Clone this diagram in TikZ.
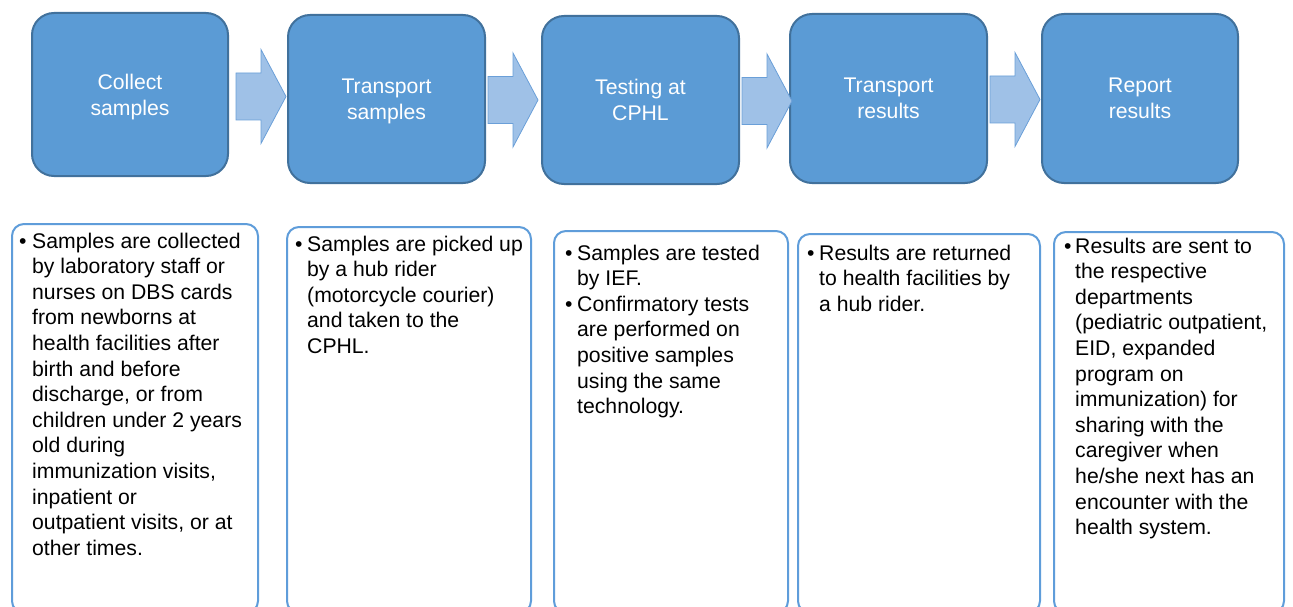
\documentclass[tikz,border=0pt]{standalone}
\usepackage{fontspec}
\setmainfont{Liberation Sans}
\definecolor{boxfill}{HTML}{5B9BD5}
\definecolor{boxline}{HTML}{41719C}
\definecolor{arrfill}{HTML}{9FC1E7}
\definecolor{arrline}{HTML}{6A9FD8}
\definecolor{noteline}{HTML}{5F9DDA}
\newcommand{\notetext}[1]{\parbox[t]{300pt}{\fontsize{21.2}{25.6}\selectfont #1}}
\begin{document}
\begin{tikzpicture}[x=1pt,y=-1pt,
  stage/.style={draw=boxline, fill=boxfill, line width=2pt, rounded corners=22pt,
    text=white, align=center, font=\fontsize{21.2}{26}\selectfont, inner sep=0pt,
    text depth=0pt},
  flowarrow/.style={draw=arrline, fill=arrfill, line width=0.8pt},
  note/.style={draw=noteline, line width=2pt, rounded corners=12pt, fill=white,
    anchor=north west, inner sep=0pt},
  bul/.style={anchor=base west, inner sep=0pt, font=\fontsize{21.2}{25.6}\selectfont},
  ntext/.style={anchor=base west, inner sep=0pt},
]
\useasboundingbox (0,0) rectangle (1293,607);

% top stages
\node[stage, minimum width=196pt, minimum height=163pt] (s1) at (130,94.5) {Collect\\samples};
\node[stage, minimum width=197pt, minimum height=168pt] (s2) at (386.5,99) {Transport\\samples};
\node[stage, minimum width=197pt, minimum height=168pt] (s3) at (640.5,100) {Testing at\\CPHL};
\node[stage, minimum width=197pt, minimum height=169pt] (s4) at (888.5,98.5) {Transport\\results};
\node[stage, minimum width=196pt, minimum height=169pt] (s5) at (1140,98.5) {Report\\results};

% block arrows
\foreach \L/\yc in {236/96.5, 488/100, 742/101, 990/99.5}{
  \draw[flowarrow] (\L,\yc-23.5) -- (\L+25,\yc-23.5) -- (\L+25,\yc-47) -- (\L+50,\yc)
    -- (\L+25,\yc+47) -- (\L+25,\yc+23.5) -- (\L,\yc+23.5) -- cycle;
}

% note boxes
\node[note, minimum width=246pt, minimum height=389pt] (n1) at (11,223) {};
\node[note, minimum width=244pt, minimum height=386pt] (n2) at (286,226) {};
\node[note, minimum width=234pt, minimum height=382pt] (n3) at (553,230) {};
\node[note, minimum width=242pt, minimum height=379pt] (n4) at (797,233) {};
\node[note, minimum width=230pt, minimum height=381pt] (n5) at (1053,231) {};

% note texts
\node[bul] (b1) at (19,248) {\textbullet};
\node[ntext] (t1) at (32,248) {\notetext{Samples are collected\\by laboratory staff or\\nurses on DBS cards\\from newborns at\\health facilities after\\birth and before\\discharge, or from\\children under 2 years\\old during\\immunization visits,\\inpatient or\\outpatient visits, or at\\other times.}};

\node[bul] (b2) at (295,251) {\textbullet};
\node[ntext] (t2) at (307,251) {\notetext{Samples are picked up\\by a hub rider\\(motorcycle courier)\\and taken to the\\CPHL.}};

\node[bul] (b3) at (565,260) {\textbullet};
\node[ntext] (t3) at (577,260) {\notetext{Samples are tested\\by IEF.}};
\node[bul] (b3b) at (565,311.2) {\textbullet};
\node[ntext] (t3b) at (577,311.2) {\notetext{Confirmatory tests\\are performed on\\positive samples\\using the same\\technology.}};

\node[bul] (b4) at (807,260) {\textbullet};
\node[ntext] (t4) at (819,260) {\notetext{Results are returned\\to health facilities by\\a hub rider.}};

\node[bul] (b5) at (1064,253) {\textbullet};
\node[ntext] (t5) at (1075,253) {\notetext{Results are sent to\\the respective\\departments\\(pediatric outpatient,\\EID, expanded\\program on\\immunization) for\\sharing with the\\caregiver when\\he/she next has an\\encounter with the\\health system.}};
\end{tikzpicture}
\end{document}
